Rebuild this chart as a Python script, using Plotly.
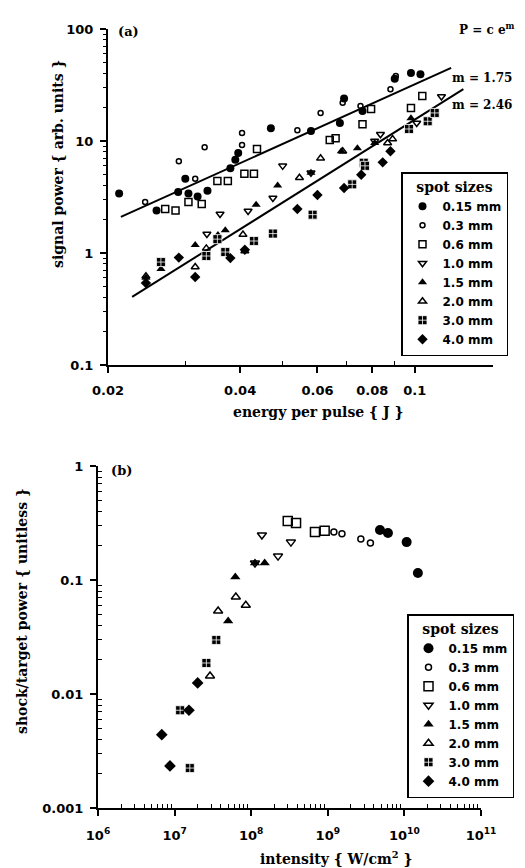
import numpy as np
import plotly.graph_objects as go

# ---------------- panel (a): signal power vs energy per pulse ----------------
a_names = ["0.15 mm", "0.3 mm", "0.6 mm", "1.0 mm", "1.5 mm", "2.0 mm", "3.0 mm", "4.0 mm"]

a015_x = [0.0212, 0.0258, 0.0289, 0.0300, 0.0305, 0.0320, 0.0337, 0.0380, 0.0390, 0.0396,
          0.0470, 0.0580, 0.0675, 0.0690, 0.0760, 0.0900, 0.0980, 0.1030]
a015_y = [3.4, 2.4, 3.5, 4.6, 3.4, 3.2, 3.6, 5.7, 6.8, 7.8, 13.0, 12.3, 14.5, 24.0, 18.5, 36.0, 40.5, 39.5]

a03_x = [0.0243, 0.0290, 0.0316, 0.0332, 0.0404, 0.0404, 0.0540, 0.0610, 0.0685, 0.0752, 0.0880, 0.0905]
a03_y = [2.85, 6.6, 4.6, 8.8, 11.8, 9.2, 12.5, 17.8, 22.0, 20.5, 29.0, 38.0]

a06_x = [0.0270, 0.0285, 0.0305, 0.0327, 0.0355, 0.0375, 0.0409, 0.0430, 0.0437, 0.0640, 0.0660,
         0.0760, 0.0795, 0.0980, 0.1040]
a06_y = [2.47, 2.40, 2.85, 2.74, 4.4, 4.4, 5.1, 5.1, 8.5, 10.2, 10.6, 14.1, 19.3, 19.7, 25.2]

a10_x = [0.0336, 0.0360, 0.0417, 0.0475, 0.0500, 0.0580, 0.0810, 0.0835, 0.1010, 0.1150]
a10_y = [1.48, 2.23, 2.37, 3.1, 6.0, 5.2, 10.0, 11.5, 14.5, 25.0]

a15_x = [0.0244, 0.0264, 0.0316, 0.0356, 0.0370, 0.0435, 0.0487, 0.0580, 0.0680, 0.0740, 0.0810, 0.0980]
a15_y = [0.60, 0.72, 1.18, 1.45, 1.60, 2.70, 4.0, 5.2, 8.1, 8.6, 9.6, 16.0]

a20_x = [0.0244, 0.0316, 0.0335, 0.0406, 0.0410, 0.0546, 0.0610, 0.0685, 0.0867, 0.0890]
a20_y = [0.62, 0.75, 1.10, 1.46, 1.04, 4.7, 7.0, 8.1, 9.6, 10.4]

a30_x = [0.0264, 0.0335, 0.0355, 0.0370, 0.0430, 0.0475, 0.0585, 0.0720, 0.0765, 0.0770, 0.0970, 0.1070, 0.1110]
a30_y = [0.83, 0.94, 1.33, 1.02, 1.28, 1.49, 2.2, 4.1, 6.4, 6.0, 12.8, 15.0, 17.8]

a40_x = [0.0244, 0.0290, 0.0316, 0.0380, 0.0410, 0.0540, 0.0600, 0.0690, 0.0755, 0.0845, 0.0880]
a40_y = [0.54, 0.91, 0.61, 0.90, 1.07, 2.47, 3.3, 3.8, 5.0, 6.45, 8.1]

fit1_x = [0.0214, 0.121]
fit1_y = [2.1, 44.9]
fit2_x = [0.0227, 0.129]
fit2_y = [0.405, 29.1]

a_x_ticks = [0.02, 0.04, 0.06, 0.08, 0.1]
a_x_ticktext = ["0.02", "0.04", "0.06", "0.08", "0.1"]
a_y_ticks = [0.1, 1, 10, 100]
a_y_ticktext = ["0.1", "1", "10", "100"]

# ---------------- panel (b): shock/target power vs intensity ----------------
b015_x = [4.8e9, 6.1e9, 1.07e10, 1.5e10]
b015_y = [0.275, 0.258, 0.215, 0.115]
b03_x = [1.2e9, 1.53e9, 2.7e9, 3.6e9]
b03_y = [0.264, 0.254, 0.229, 0.211]
b06_x = [3.0e8, 3.85e8, 6.8e8, 9.1e8]
b06_y = [0.33, 0.316, 0.264, 0.27]
b10_x = [1.12e8, 1.38e8, 2.24e8, 3.3e8]
b10_y = [0.141, 0.248, 0.162, 0.215]
b15_x = [5.0e7, 6.2e7, 1.12e8, 1.5e8]
b15_y = [0.0437, 0.106, 0.141, 0.141]
b20_x = [2.9e7, 3.7e7, 6.3e7, 8.5e7]
b20_y = [0.0144, 0.0535, 0.071, 0.060]
b30_x = [1.18e7, 1.58e7, 2.6e7, 3.5e7]
b30_y = [0.0072, 0.00224, 0.0187, 0.0298]
b40_x = [6.8e6, 8.7e6, 1.54e7, 2.0e7]
b40_y = [0.0044, 0.00234, 0.0072, 0.0125]

b_x_ticks = [1e6, 1e7, 1e8, 1e9, 1e10, 1e11]
b_x_ticktext = ["10<sup>6</sup>", "10<sup>7</sup>", "10<sup>8</sup>", "10<sup>9</sup>",
                "10<sup>10</sup>", "10<sup>11</sup>"]
b_y_ticks = [0.001, 0.01, 0.1, 1]
b_y_ticktext = ["0.001", "0.01", "0.1", "1"]

# ---------------- styles ----------------
W, H = 525, 868
SERIF = "DejaVu Serif"
SANS = "DejaVu Sans"

styles = [
    dict(symbol="circle", lw=0),
    dict(symbol="circle-open", lw=1.5),
    dict(symbol="square-open", lw=1.5),
    dict(symbol="triangle-down-open", lw=1.5),
    dict(symbol="triangle-up", lw=0),
    dict(symbol="triangle-up-open", lw=1.5),
    dict(symbol="square-cross", lw=0.8),
    dict(symbol="diamond", lw=0),
]
a_sizes = [8, 5, 7, 7, 8, 7, 9, 8]
b_sizes = [10, 6, 9, 8, 9, 8, 9, 9]

a_data = [(a015_x, a015_y), (a03_x, a03_y), (a06_x, a06_y), (a10_x, a10_y),
          (a15_x, a15_y), (a20_x, a20_y), (a30_x, a30_y), (a40_x, a40_y)]
b_data = [(b015_x, b015_y), (b03_x, b03_y), (b06_x, b06_y), (b10_x, b10_y),
          (b15_x, b15_y), (b20_x, b20_y), (b30_x, b30_y), (b40_x, b40_y)]

fig = go.Figure()

for line_x, line_y in [(fit1_x, fit1_y), (fit2_x, fit2_y)]:
    fig.add_trace(go.Scatter(x=line_x, y=line_y, mode="lines", line=dict(color="black", width=2),
                             showlegend=False, hoverinfo="skip", xaxis="x", yaxis="y"))


def marker(st, size):
    lc = "white" if st["symbol"] == "square-cross" else "black"
    return dict(symbol=st["symbol"], size=size, color="black",
                line=dict(color=lc, width=st["lw"]))


for i, (xs, ys) in enumerate(a_data):
    fig.add_trace(go.Scatter(x=xs, y=ys, mode="markers", name=a_names[i],
                             marker=marker(styles[i], a_sizes[i]),
                             xaxis="x", yaxis="y", legend="legend"))

for i, (xs, ys) in enumerate(b_data):
    fig.add_trace(go.Scatter(x=xs, y=ys, mode="markers", name=a_names[i],
                             marker=marker(styles[i], b_sizes[i]),
                             xaxis="x2", yaxis="y2", legend="legend2"))


def minor_vals(lo, hi):
    vals = []
    for d in range(lo, hi):
        for k in range(2, 10):
            vals.append(k * 10.0 ** d)
    return vals


tickfont = dict(family=SANS, size=13, color="black", weight="bold")
common = dict(showline=True, linecolor="black", linewidth=2, showgrid=False, zeroline=False,
              ticks="outside", ticklen=6, tickwidth=1.5, tickcolor="black", tickfont=tickfont,
              automargin=False, tickmode="array")

a_dom_x = [100 / W, 485 / W]
a_dom_y = [(H - 357) / H, (H - 21) / H]
b_dom_x = [90 / W, 473 / W]
b_dom_y = [(H - 800) / H, (H - 458) / H]

a_xrange = [np.log10(0.02), np.log10(0.1507)]

fig.update_layout(
    xaxis=dict(type="log", range=a_xrange, domain=a_dom_x, anchor="y",
               tickvals=a_x_ticks, ticktext=a_x_ticktext, ticklabelstandoff=6,
               minor=dict(tickmode="array", tickvals=[0.03, 0.05, 0.07, 0.09], ticks="inside",
                          ticklen=4, tickcolor="black", tickwidth=1), **common),
    yaxis=dict(type="log", range=[-1, 2], domain=a_dom_y, anchor="x",
               tickvals=a_y_ticks, ticktext=a_y_ticktext, ticklabelstandoff=4,
               minor=dict(tickmode="array", tickvals=minor_vals(-1, 2), ticks="outside",
                          ticklen=3, tickcolor="black", tickwidth=1), **common),
    xaxis2=dict(type="log", range=[6, 11], domain=b_dom_x, anchor="y2",
                tickvals=b_x_ticks, ticktext=b_x_ticktext, ticklabelstandoff=8,
                minor=dict(tickmode="array", tickvals=minor_vals(6, 11), ticks="inside",
                           ticklen=4, tickcolor="black", tickwidth=1), **common),
    yaxis2=dict(type="log", range=[-3, 0], domain=b_dom_y, anchor="x2",
                tickvals=b_y_ticks, ticktext=b_y_ticktext, ticklabelstandoff=4,
                minor=dict(tickmode="array", tickvals=minor_vals(-3, 0), ticks="inside",
                           ticklen=4, tickcolor="black", tickwidth=1), **common),
    # overlay axes giving the inner half of the crossing major ticks
    xaxis3=dict(type="log", range=a_xrange, overlaying="x", anchor="y", tickmode="array",
                tickvals=[0.1], ticks="inside", ticklen=6, tickwidth=1.5, tickcolor="black",
                showticklabels=False, showline=False, showgrid=False, zeroline=False),
    yaxis3=dict(type="log", range=[-1, 2], overlaying="y", anchor="x", tickmode="array",
                tickvals=a_y_ticks, ticks="inside", ticklen=6, tickwidth=1.5, tickcolor="black",
                showticklabels=False, showline=False, showgrid=False, zeroline=False),
    xaxis4=dict(type="log", range=[6, 11], overlaying="x2", anchor="y2", tickmode="array",
                tickvals=b_x_ticks, ticks="inside", ticklen=7, tickwidth=1.5, tickcolor="black",
                showticklabels=False, showline=False, showgrid=False, zeroline=False),
    yaxis4=dict(type="log", range=[-3, 0], overlaying="y2", anchor="x2", tickmode="array",
                tickvals=b_y_ticks, ticks="inside", ticklen=6, tickwidth=1.5, tickcolor="black",
                showticklabels=False, showline=False, showgrid=False, zeroline=False),
)

legend_common = dict(xanchor="left", yanchor="bottom", bordercolor="black", borderwidth=1.5,
                     bgcolor="white", itemwidth=30, tracegroupgap=0,
                     font=dict(family=SANS, size=12, color="black", weight="bold"),
                     title=dict(text="spot sizes", side="top center",
                                font=dict(family=SERIF, size=14, color="black", weight="bold")))

fig.update_layout(
    width=W, height=H, margin=dict(l=0, r=0, t=0, b=0),
    paper_bgcolor="white", plot_bgcolor="white", showlegend=True,
    legend=dict(x=393 / W, y=(H - 348) / H, **legend_common),
    legend2=dict(x=399 / W, y=(H - 790) / H, **legend_common),
)

serif_b = lambda s: dict(family=SERIF, size=s, color="black", weight="bold")


def ann(text, px, py, size, angle=0, xanchor="center"):
    fig.add_annotation(text=text, x=px / W, y=(H - py) / H, xref="paper", yref="paper",
                       showarrow=False, textangle=angle, xanchor=xanchor, yanchor="middle",
                       font=serif_b(size))


ann("(a)", 120, 23, 13)
ann("P = c e<sup>m</sup>", 479, 21, 12)
ann("m = 1.75", 474, 70, 12)
ann("m = 2.46", 474, 97, 12)
ann("(b)", 113, 462, 13)
ann("signal power { arb. units }", 50, 156, 14, angle=-90)
ann("energy per pulse { J }", 310, 404, 14)
ann("shock/target power { unitless }", 14, 603, 14, angle=-90)
ann("intensity { W/cm<sup>2</sup> }", 328, 850, 14)

fig.write_html("out.html")
